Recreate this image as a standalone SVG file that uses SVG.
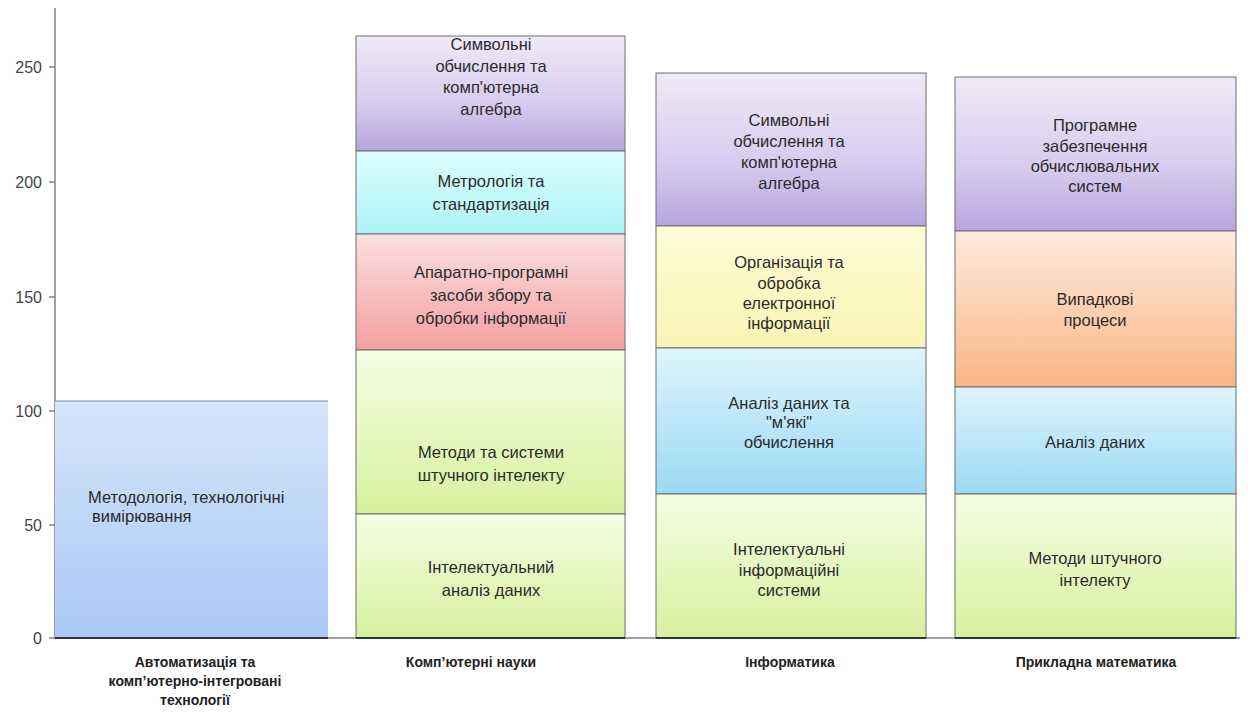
<svg xmlns="http://www.w3.org/2000/svg" width="1248" height="723" viewBox="0 0 1248 723">
<defs>
<linearGradient id="gPurple" x1="0" y1="0" x2="0" y2="1"><stop offset="0" stop-color="#efeaf8"/><stop offset="0.6" stop-color="#d6cbee"/><stop offset="1" stop-color="#b7a5de"/></linearGradient>
<linearGradient id="gCyan" x1="0" y1="0" x2="0" y2="1"><stop offset="0" stop-color="#dcfdfe"/><stop offset="1" stop-color="#aef3f7"/></linearGradient>
<linearGradient id="gRed" x1="0" y1="0" x2="0" y2="1"><stop offset="0" stop-color="#fbe0e0"/><stop offset="1" stop-color="#f3a0a0"/></linearGradient>
<linearGradient id="gGreen" x1="0" y1="0" x2="0" y2="1"><stop offset="0" stop-color="#f6fde4"/><stop offset="1" stop-color="#d7f19e"/></linearGradient>
<linearGradient id="gYellow" x1="0" y1="0" x2="0" y2="1"><stop offset="0" stop-color="#fefdd8"/><stop offset="1" stop-color="#faf3b4"/></linearGradient>
<linearGradient id="gBlue" x1="0" y1="0" x2="0" y2="1"><stop offset="0" stop-color="#def5fd"/><stop offset="1" stop-color="#9cd9f5"/></linearGradient>
<linearGradient id="gOrange" x1="0" y1="0" x2="0" y2="1"><stop offset="0" stop-color="#feeade"/><stop offset="1" stop-color="#f9b684"/></linearGradient>
<linearGradient id="gBar1" x1="0" y1="0" x2="0" y2="1"><stop offset="0" stop-color="#d6e5fb"/><stop offset="1" stop-color="#a9c8f5"/></linearGradient>
</defs>
<style>
.seg{stroke:#6e6e6e;stroke-width:1}
.lbl{font-family:"Liberation Sans",Arial,sans-serif;font-size:16.5px;fill:#2b2b2b;text-anchor:middle}
.lft{text-anchor:start}
.ax{font-family:"Liberation Sans",Arial,sans-serif;font-size:16px;fill:#444;text-anchor:end}
.cat{font-family:"Liberation Sans",Arial,sans-serif;font-size:14px;font-weight:bold;fill:#222;text-anchor:middle}
.axis{stroke:#808080;stroke-width:1.5;fill:none}
</style>
<rect width="1248" height="723" fill="#ffffff"/>

<g id="axes">
<line class="axis" x1="55" y1="8" x2="55" y2="638"/>
<line class="axis" x1="49" y1="638" x2="1240" y2="638"/>
<line class="axis" x1="49" y1="67" x2="55" y2="67"/>
<line class="axis" x1="49" y1="182" x2="55" y2="182"/>
<line class="axis" x1="49" y1="297" x2="55" y2="297"/>
<line class="axis" x1="49" y1="411" x2="55" y2="411"/>
<line class="axis" x1="49" y1="525" x2="55" y2="525"/>
<text class="ax" x="42" y="73">250</text>
<text class="ax" x="42" y="188">200</text>
<text class="ax" x="42" y="303">150</text>
<text class="ax" x="42" y="417">100</text>
<text class="ax" x="42" y="531">50</text>
<text class="ax" x="42" y="644">0</text>
</g>

<g id="bar1">
<rect x="55" y="401" width="273" height="237" fill="url(#gBar1)"/>
<line x1="55" y1="401" x2="328" y2="401" stroke="#6f8dbf" stroke-width="1"/>
<line x1="55" y1="638" x2="328" y2="638" stroke="#2c3545" stroke-width="2"/>
<text class="lbl lft" x="88" y="503">Методологія, технологічні</text>
<text class="lbl lft" x="92" y="522">вимірювання</text>
</g>

<g id="bar2">
<rect class="seg" x="356" y="36" width="269" height="115" fill="url(#gPurple)"/>
<rect class="seg" x="356" y="151" width="269" height="83" fill="url(#gCyan)"/>
<rect class="seg" x="356" y="234" width="269" height="116" fill="url(#gRed)"/>
<rect class="seg" x="356" y="350" width="269" height="164" fill="url(#gGreen)"/>
<rect class="seg" x="356" y="514" width="269" height="124" fill="url(#gGreen)"/>
<line x1="356" y1="638" x2="625" y2="638" stroke="#2c3530" stroke-width="2"/>
<text class="lbl" x="491" y="50">Символьні</text>
<text class="lbl" x="491" y="72">обчислення  та</text>
<text class="lbl" x="491" y="93">комп'ютерна</text>
<text class="lbl" x="491" y="115">алгебра</text>
<text class="lbl" x="491" y="187">Метрологія та</text>
<text class="lbl" x="491" y="210">стандартизація</text>
<text class="lbl" x="491" y="278">Апаратно-програмні</text>
<text class="lbl" x="491" y="301">засоби збору та</text>
<text class="lbl" x="491" y="324">обробки  інформації</text>
<text class="lbl" x="491" y="458">Методи та системи</text>
<text class="lbl" x="491" y="481">штучного  інтелекту</text>
<text class="lbl" x="491" y="573">Інтелектуальний</text>
<text class="lbl" x="491" y="596">аналіз даних</text>
</g>

<g id="bar3">
<rect class="seg" x="656" y="73" width="270" height="153" fill="url(#gPurple)"/>
<rect class="seg" x="656" y="226" width="270" height="122" fill="url(#gYellow)"/>
<rect class="seg" x="656" y="348" width="270" height="146" fill="url(#gBlue)"/>
<rect class="seg" x="656" y="494" width="270" height="144" fill="url(#gGreen)"/>
<line x1="656" y1="638" x2="926" y2="638" stroke="#2c3530" stroke-width="2"/>
<text class="lbl" x="789" y="126">Символьні</text>
<text class="lbl" x="789" y="147">обчислення  та</text>
<text class="lbl" x="789" y="168">комп'ютерна</text>
<text class="lbl" x="789" y="189">алгебра</text>
<text class="lbl" x="789" y="268">Організація та</text>
<text class="lbl" x="789" y="289">обробка</text>
<text class="lbl" x="789" y="309">електронної</text>
<text class="lbl" x="789" y="329">інформації</text>
<text class="lbl" x="789" y="409">Аналіз даних  та</text>
<text class="lbl" x="789" y="428">"м'які"</text>
<text class="lbl" x="789" y="448">обчислення</text>
<text class="lbl" x="789" y="555">Інтелектуальні</text>
<text class="lbl" x="789" y="576">інформаційні</text>
<text class="lbl" x="789" y="596">системи</text>
</g>

<g id="bar4">
<rect class="seg" x="955" y="77" width="281" height="154" fill="url(#gPurple)"/>
<rect class="seg" x="955" y="231" width="281" height="156" fill="url(#gOrange)"/>
<rect class="seg" x="955" y="387" width="281" height="107" fill="url(#gBlue)"/>
<rect class="seg" x="955" y="494" width="281" height="144" fill="url(#gGreen)"/>
<line x1="955" y1="638" x2="1236" y2="638" stroke="#2c3530" stroke-width="2"/>
<text class="lbl" x="1095" y="131">Програмне</text>
<text class="lbl" x="1095" y="152">забезпечення</text>
<text class="lbl" x="1095" y="172">обчислювальних</text>
<text class="lbl" x="1095" y="192">систем</text>
<text class="lbl" x="1095" y="305">Випадкові</text>
<text class="lbl" x="1095" y="326">процеси</text>
<text class="lbl" x="1095" y="448">Аналіз даних</text>
<text class="lbl" x="1095" y="564">Методи штучного</text>
<text class="lbl" x="1095" y="586">інтелекту</text>
</g>

<g id="categories">
<text class="cat" x="195" y="667">Автоматизація та</text>
<text class="cat" x="195" y="686">комп’ютерно-інтегровані</text>
<text class="cat" x="195" y="705">технології</text>
<text class="cat" x="471" y="667">Комп’ютерні науки</text>
<text class="cat" x="790" y="667">Інформатика</text>
<text class="cat" x="1096" y="667">Прикладна математика</text>
</g>
</svg>
